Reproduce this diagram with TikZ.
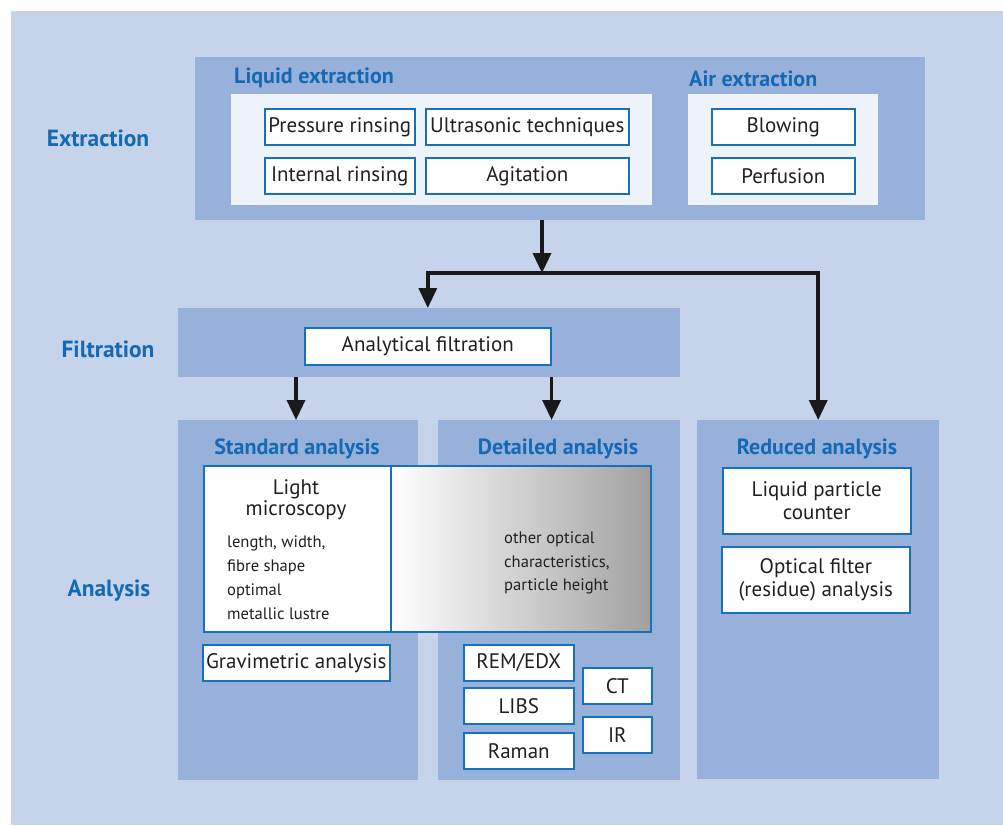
\documentclass[tikz,border=0pt]{standalone}
\usepackage{fontspec}
\setmainfont{PT Sans}
\usetikzlibrary{arrows.meta}
\definecolor{bgblue}{HTML}{C5D4EB}
\definecolor{panblue}{HTML}{97B1DB}
\definecolor{inwhite}{HTML}{EEF3FA}
\definecolor{edgeblue}{HTML}{1570BD}
\definecolor{headblue}{HTML}{1569B3}
\definecolor{txtgray}{HTML}{231F20}

\tikzstyle{line} = [draw, -{Triangle[width=18pt,length=20pt]}, line width=3.5pt, black!90]
\tikzstyle{panel} = [rectangle, fill=panblue, anchor=north west, inner sep=0pt]
\tikzstyle{inner} = [rectangle, fill=inwhite, anchor=north west, inner sep=0pt]
\tikzstyle{block} = [draw=edgeblue, line width=1.6pt, fill=white, rectangle, anchor=north west, inner sep=0pt, align=center, text=txtgray, font=\fontsize{21}{23.5}\selectfont]
\tikzstyle{plain} = [text=txtgray, inner sep=0pt, align=center, font=\fontsize{21}{21}\selectfont]
\tikzstyle{small} = [text=txtgray, inner sep=0pt, align=left, anchor=west, font=\fontsize{16.6}{23.8}\selectfont]
\tikzstyle{head} = [text=headblue, inner sep=0pt, font=\bfseries\fontsize{22}{24}\selectfont]
\tikzstyle{side} = [text=headblue, inner sep=0pt, font=\bfseries\fontsize{23.4}{26}\selectfont]

\begin{document}
\begin{tikzpicture}[x=1pt, y=-1pt]
\useasboundingbox (0,0) rectangle (1003,825);
\fill[bgblue] (11,11) rectangle (1003,825);
% etapas
\node [side] (lextr) at (98,138) {Extraction};
\node [side] (lfilt) at (108,349) {Filtration};
\node [side] (lanal) at (109,591) {Analysis};
% extracao
\node [panel, minimum width=730, minimum height=163] (extra) at (195,57) {};
\node [inner, minimum width=421, minimum height=111] (liqui) at (231,94) {};
\node [inner, minimum width=190, minimum height=111] (airex) at (688,94) {};
\node [head, anchor=west] (hliqu) at (234,78) {Liquid extraction};
\node [head, anchor=west] (hairx) at (689,79) {Air extraction};
\node [block, minimum width=150, minimum height=36] (press) at (264,108) {Pressure rinsing};
\node [block, minimum width=203, minimum height=36] (ultra) at (425,108) {Ultrasonic techniques};
\node [block, minimum width=150, minimum height=36] (inter) at (264,157) {Internal rinsing};
\node [block, minimum width=203, minimum height=36] (agita) at (425,157) {Agitation};
\node [block, minimum width=143, minimum height=36] (blowi) at (711,108) {Blowing};
\node [block, minimum width=143, minimum height=36] (perfu) at (711,157) {Perfusion};
% filtracao
\node [panel, minimum width=502, minimum height=69] (filtr) at (178,308) {};
\node [block, minimum width=246, minimum height=37] (analy) at (304,327) {Analytical filtration};
% analise
\node [panel, minimum width=240, minimum height=360] (stand) at (178,420) {};
\node [panel, minimum width=242, minimum height=360] (detai) at (438,420) {};
\node [panel, minimum width=242, minimum height=359] (reduc) at (697,420) {};
\node [head] (hstan) at (297,449) {Standard analysis};
\node [head] (hdeta) at (558,449) {Detailed analysis};
\node [head] (hredu) at (817,449) {Reduced analysis};
\node [block, left color=white, right color=black!37, minimum width=260, minimum height=166] (optic) at (390,465) {};
\node [block, minimum width=187, minimum height=166] (light) at (203,465) {};
\node [plain] (tligh) at (296,500) {Light\\microscopy};
\node [small, anchor=north west] (tprop) at (227,536) {length, width,\\fibre shape\\optimal\\metallic lustre};
\node [small] (topti) at (504,563) {other optical\\characteristics,\\particle height};
\node [block, minimum width=187, minimum height=36] (gravi) at (202,644) {Gravimetric analysis};
\node [block, minimum width=110, minimum height=36] (remed) at (463,644) {REM/EDX};
\node [block, minimum width=110, minimum height=36] (libs) at (463,687) {LIBS};
\node [block, minimum width=110, minimum height=36] (raman) at (463,732) {Raman};
\node [block, minimum width=69, minimum height=36] (ct) at (582,667) {CT};
\node [block, minimum width=69, minimum height=36] (ir) at (582,716) {IR};
\node [block, minimum width=188, minimum height=66] (count) at (722,467) {Liquid particle\\counter};
\node [block, minimum width=188, minimum height=66] (ofilt) at (721,546) {Optical filter\\(residue) analysis};
%arrows
\coordinate (junc) at (542,273);
\path [line] (extra.south -| junc) -- (junc);
\path [line] (junc) -| (filtr.north -| analy.north);
\path [line] (junc) -| (reduc.north);
\path [line] (filtr.south -| 296,0) -- (stand.north -| 296,0);
\path [line] (filtr.south -| analy.east) -- (detai.north -| analy.east);
\end{tikzpicture}
\end{document}
